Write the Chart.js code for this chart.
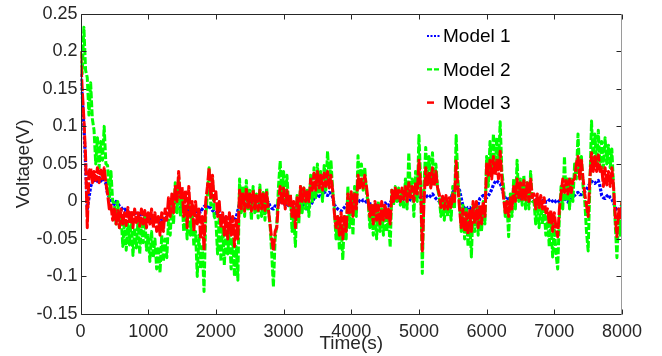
<!DOCTYPE html>
<html>
<head>
<meta charset="utf-8">
<script src="https://cdn.jsdelivr.net/npm/chart.js@4.4.0/dist/chart.umd.min.js"></script>
<style>
  html, body { margin: 0; padding: 0; background: #fff; }
  #wrap { width: 662px; height: 356px; }
</style>
</head>
<body>
<div id="wrap"><canvas id="c" width="662" height="356"></canvas></div>
<script>
const timeS = [
  0, 25, 50, 75, 100, 125, 150, 175, 200, 225, 250, 275, 300, 325, 350, 375, 400, 425, 450, 475,
  500, 525, 550, 575, 600, 625, 650, 675, 700, 725, 750, 775, 800, 825, 850, 875, 900, 925, 950, 975,
  1000, 1025, 1050, 1075, 1100, 1125, 1150, 1175, 1200, 1225, 1250, 1275, 1300, 1325, 1350, 1375, 1400, 1425, 1450, 1475,
  1500, 1525, 1550, 1575, 1600, 1625, 1650, 1675, 1700, 1725, 1750, 1775, 1800, 1825, 1850, 1875, 1900, 1925, 1950, 1975,
  2000, 2025, 2050, 2075, 2100, 2125, 2150, 2175, 2200, 2225, 2250, 2275, 2300, 2325, 2350, 2375, 2400, 2425, 2450, 2475,
  2500, 2525, 2550, 2575, 2600, 2625, 2650, 2675, 2700, 2725, 2750, 2775, 2800, 2825, 2850, 2875, 2900, 2925, 2950, 2975,
  3000, 3025, 3050, 3075, 3100, 3125, 3150, 3175, 3200, 3225, 3250, 3275, 3300, 3325, 3350, 3375, 3400, 3425, 3450, 3475,
  3500, 3525, 3550, 3575, 3600, 3625, 3650, 3675, 3700, 3725, 3750, 3775, 3800, 3825, 3850, 3875, 3900, 3925, 3950, 3975,
  4000, 4025, 4050, 4075, 4100, 4125, 4150, 4175, 4200, 4225, 4250, 4275, 4300, 4325, 4350, 4375, 4400, 4425, 4450, 4475,
  4500, 4525, 4550, 4575, 4600, 4625, 4650, 4675, 4700, 4725, 4750, 4775, 4800, 4825, 4850, 4875, 4900, 4925, 4950, 4975,
  5000, 5025, 5050, 5075, 5100, 5125, 5150, 5175, 5200, 5225, 5250, 5275, 5300, 5325, 5350, 5375, 5400, 5425, 5450, 5475,
  5500, 5525, 5550, 5575, 5600, 5625, 5650, 5675, 5700, 5725, 5750, 5775, 5800, 5825, 5850, 5875, 5900, 5925, 5950, 5975,
  6000, 6025, 6050, 6075, 6100, 6125, 6150, 6175, 6200, 6225, 6250, 6275, 6300, 6325, 6350, 6375, 6400, 6425, 6450, 6475,
  6500, 6525, 6550, 6575, 6600, 6625, 6650, 6675, 6700, 6725, 6750, 6775, 6800, 6825, 6850, 6875, 6900, 6925, 6950, 6975,
  7000, 7025, 7050, 7075, 7100, 7125, 7150, 7175, 7200, 7225, 7250, 7275, 7300, 7325, 7350, 7375, 7400, 7425, 7450, 7475,
  7500, 7525, 7550, 7575, 7600, 7625, 7650, 7675, 7700, 7725, 7750, 7775, 7800, 7825, 7850, 7875, 7900, 7925, 7950, 7975,
  8000
];

// voltages (V) every 25 s, one row = 500 s
const model1 = [
  0.17, 0.14, 0.10, 0.05, -0.01, 0.005, 0.02, 0.026, 0.03, 0.025, 0.028, 0.032, 0.027, 0.031, 0.028, 0.024, 0.01, 0.006, 0.002, -0.002,
  -0.004, 0.0, -0.003, -0.006, -0.008, -0.011, -0.012, -0.009, -0.013, -0.017, -0.014, -0.019, -0.013, -0.018, -0.02, -0.016, -0.02, -0.017, -0.022, -0.018,
  -0.019, -0.024, -0.021, -0.026, -0.022, -0.028, -0.024, -0.029, -0.023, -0.027, -0.024, -0.02, -0.015, -0.01, -0.006, -0.003, 0.0, -0.002, -0.004, -0.007,
  -0.01, -0.013, -0.009, -0.013, -0.008, -0.012, -0.009, -0.013, -0.01, -0.014, -0.011, -0.014, -0.01, -0.007, -0.005, -0.008, -0.005, -0.009, -0.012, -0.014,
  -0.016, -0.012, -0.015, -0.019, -0.02, -0.024, -0.021, -0.025, -0.02, -0.024, -0.022, -0.026, -0.021, -0.012, -0.003, 0.001, 0.002, -0.002, -0.004, 0.0,
  0.003, -0.001, -0.002, 0.002, 0.004, 0.0, -0.003, 0.001, 0.002, -0.002, -0.004, -0.001, -0.006, -0.009, -0.01, -0.006, -0.007, -0.004, -0.004, -0.001,
  -0.002, -0.005, -0.007, -0.004, -0.003, -0.007, -0.009, -0.005, -0.004, -0.008, -0.008, -0.005, -0.006, -0.009, -0.01, -0.007, -0.005, -0.001, 0.004, 0.007,
  0.01, 0.007, 0.006, 0.01, 0.013, 0.009, 0.008, 0.012, 0.011, 0.006, -0.004, -0.008, -0.01, -0.012, -0.013, -0.01, -0.008, -0.005, -0.002, 0.001,
  0.002, -0.001, -0.002, 0.001, 0.003, 0.0, -0.001, 0.002, 0.002, -0.001, -0.002, -0.003, -0.004, -0.007, -0.008, -0.005, -0.003, -0.006, -0.007, -0.004,
  -0.002, -0.005, -0.006, -0.002, 0.002, 0.004, 0.005, 0.002, 0.001, 0.004, 0.006, 0.003, 0.002, 0.005, 0.005, 0.002, 0.001, 0.003, 0.004, 0.006,
  0.008, 0.005, 0.004, 0.007, 0.009, 0.006, 0.005, 0.008, 0.01, 0.007, 0.004, 0.002, 0.0, -0.002, -0.004, -0.001, 0.001, -0.002, -0.003, 0.004,
  0.012, 0.016, 0.018, 0.017, 0.015, 0.004, -0.006, -0.009, -0.011, -0.008, -0.008, -0.011, -0.013, -0.01, -0.009, -0.004, 0.004, 0.006, 0.008, 0.005,
  0.005, 0.008, 0.011, 0.016, 0.022, 0.026, 0.028, 0.025, 0.024, 0.018, 0.01, 0.005, 0.002, 0.004, 0.005, 0.002, 0.0, 0.003, 0.006, 0.003,
  0.002, 0.004, 0.005, 0.002, 0.0, 0.003, 0.004, 0.001, -0.001, 0.002, 0.003, 0.0, -0.002, 0.001, 0.002, -0.001, -0.001, 0.002, 0.003, 0.0,
  -0.002, 0.001, 0.002, -0.001, 0.0, 0.003, 0.004, 0.001, -0.001, 0.002, 0.003, 0.006, 0.008, 0.011, 0.012, 0.009, 0.009, 0.012, 0.013, 0.016,
  0.02, 0.024, 0.027, 0.025, 0.024, 0.027, 0.028, 0.02, 0.008, 0.005, 0.004, 0.007, 0.009, 0.005, 0.003, -0.002, -0.008, -0.011, -0.012, -0.008,
  -0.005
];
const model2 = [
  0.20, 0.17, 0.232, 0.175, 0.165, 0.115, 0.158, 0.11, 0.095, 0.05, 0.085, 0.045, 0.08, 0.055, 0.10, 0.05, 0.048, 0.005, 0.04, 0.0,
  -0.002, -0.03, 0.0, -0.035, -0.02, -0.06, -0.025, -0.065, -0.03, -0.058, -0.022, -0.072, -0.035, -0.062, -0.025, -0.07, -0.03, -0.055, -0.02, -0.065,
  -0.045, -0.08, -0.04, -0.075, -0.05, -0.09, -0.06, -0.095, -0.045, -0.08, -0.05, -0.075, -0.025, -0.045, -0.005, -0.03, 0.025, -0.015, 0.032, -0.02,
  0.005, -0.04, -0.01, -0.05, 0.0, -0.045, -0.015, -0.06, -0.04, -0.1, -0.045, -0.09, -0.06, -0.12, -0.02, 0.01, 0.045, -0.005, 0.03, -0.02,
  -0.025, -0.07, -0.02, -0.08, -0.035, -0.085, -0.03, -0.07, -0.04, -0.09, -0.05, -0.1, -0.06, -0.105, 0.03, -0.015, 0.02, -0.02, 0.028, -0.01,
  0.015, -0.025, 0.02, -0.015, 0.01, -0.022, 0.022, -0.02, 0.012, -0.025, 0.018, -0.01, -0.03, -0.07, -0.114, -0.05, -0.03, 0.02, 0.054, 0.005,
  0.04, 0.0, 0.035, -0.005, 0.01, -0.04, -0.02, -0.06, 0.008, -0.03, 0.02, -0.015, 0.018, -0.01, 0.015, -0.02, 0.035, 0.0, 0.045, 0.005,
  0.05, 0.01, 0.04, 0.0, 0.048, 0.015, 0.067, 0.025, 0.055, 0.015, -0.01, -0.05, -0.02, -0.065, -0.03, -0.078, -0.02, -0.05, 0.02, -0.035,
  0.01, -0.045, 0.02, -0.02, 0.061, 0.02, 0.05, 0.015, 0.045, 0.01, 0.0, -0.035, -0.005, -0.045, -0.01, -0.05, 0.0, -0.04, -0.01, -0.045,
  -0.005, -0.04, -0.02, -0.061, 0.015, -0.005, 0.02, 0.0, 0.018, -0.005, 0.015, -0.01, 0.03, -0.01, 0.065, 0.01, 0.03, -0.02, 0.04, 0.0,
  0.088, 0.03, -0.096, 0.02, 0.072, 0.025, 0.06, 0.02, 0.065, 0.022, 0.05, 0.018, 0.005, -0.02, 0.002, -0.025, 0.005, -0.02, 0.0, -0.025,
  0.02, -0.01, 0.088, 0.03, 0.0, -0.04, -0.005, -0.05, -0.01, -0.06, -0.02, -0.074, -0.005, -0.04, 0.0, -0.045, -0.005, -0.04, 0.0, -0.03,
  0.06, 0.02, 0.08, 0.035, 0.09, 0.04, 0.085, 0.045, 0.106, 0.04, 0.02, -0.02, 0.0, -0.047, 0.01, -0.02, 0.03, -0.01, 0.055, 0.0,
  0.03, -0.005, 0.035, -0.01, 0.025, -0.01, 0.04, 0.0, 0.0, -0.03, 0.0, -0.035, -0.005, -0.03, -0.01, -0.045, -0.02, -0.06, -0.02, -0.074,
  -0.03, -0.07, -0.09, -0.02, 0.02, -0.01, 0.06, 0.0, 0.03, -0.01, 0.03, 0.0, 0.05, 0.03, 0.09, 0.035, 0.06, 0.02, 0.0, -0.04,
  -0.066, 0.02, 0.107, 0.05, 0.09, 0.05, 0.095, 0.045, 0.08, 0.045, 0.085, 0.05, 0.075, 0.045, 0.07, 0.02, -0.03, -0.075, -0.02, -0.045,
  0.0
];
const model3 = [
  0.20, 0.15, 0.11, 0.06, -0.035, 0.04, 0.045, 0.025, 0.04, 0.028, 0.045, 0.025, 0.042, 0.03, 0.045, 0.025, 0.01, -0.01, -0.005, -0.025,
  -0.01, -0.03, -0.012, -0.035, -0.01, -0.03, -0.015, -0.032, -0.008, -0.03, -0.012, -0.035, -0.01, -0.028, -0.015, -0.033, -0.01, -0.03, -0.012, -0.035,
  -0.015, -0.03, -0.01, -0.035, -0.015, -0.04, -0.02, -0.045, -0.015, -0.04, -0.01, -0.025, 0.005, -0.02, 0.01, -0.015, 0.02, 0.0, 0.04, 0.005,
  0.02, -0.02, 0.015, -0.035, 0.02, -0.02, 0.0, -0.04, 0.0, -0.03, -0.01, -0.05, -0.02, -0.065, 0.0, 0.02, 0.045, 0.005, 0.035, 0.0,
  0.013, -0.02, 0.0, -0.035, -0.015, -0.045, -0.02, -0.05, -0.015, -0.045, -0.02, -0.06, -0.025, -0.05, 0.015, -0.01, 0.012, -0.013, 0.018, -0.008,
  0.01, -0.013, 0.015, -0.01, 0.008, -0.012, 0.015, -0.01, 0.01, -0.012, 0.012, -0.01, -0.03, -0.05, -0.066, -0.04, -0.035, 0.0, 0.02, -0.005,
  0.018, -0.01, 0.015, -0.005, 0.01, -0.02, 0.0, -0.035, 0.005, -0.02, 0.02, 0.0, 0.018, 0.0, 0.015, 0.0, 0.03, 0.015, 0.038, 0.015,
  0.04, 0.018, 0.035, 0.015, 0.038, 0.02, 0.04, 0.018, 0.035, 0.015, -0.015, -0.035, -0.02, -0.045, -0.015, -0.05, -0.02, -0.04, 0.01, -0.015,
  0.013, -0.02, 0.01, -0.01, 0.035, 0.018, 0.03, 0.018, 0.035, 0.02, 0.0, -0.02, -0.005, -0.03, 0.0, -0.025, -0.005, -0.03, 0.0, -0.025,
  -0.005, -0.025, -0.01, -0.03, 0.015, 0.0, 0.018, 0.002, 0.015, 0.0, 0.018, 0.003, 0.02, 0.0, 0.025, 0.005, 0.02, 0.0, 0.025, 0.01,
  0.055, 0.02, -0.066, 0.0, 0.045, 0.02, 0.04, 0.018, 0.045, 0.02, 0.04, 0.018, 0.01, -0.008, 0.007, -0.01, 0.008, -0.01, 0.005, -0.008,
  0.01, 0.0, 0.054, 0.02, -0.01, -0.035, -0.01, -0.04, -0.015, -0.044, -0.012, -0.04, 0.0, -0.03, 0.0, -0.035, -0.005, -0.03, 0.0, -0.02,
  0.05, 0.035, 0.055, 0.03, 0.06, 0.035, 0.055, 0.03, 0.067, 0.03, 0.005, -0.015, 0.0, -0.02, 0.005, -0.01, 0.02, 0.0, 0.03, 0.005,
  0.025, 0.0, 0.028, 0.002, 0.025, 0.0, 0.03, 0.005, 0.01, -0.01, 0.01, -0.008, 0.008, -0.01, 0.005, -0.015, -0.01, -0.03, -0.012, -0.04,
  -0.015, -0.035, -0.047, -0.01, 0.01, 0.03, 0.012, 0.028, 0.01, 0.03, 0.012, 0.028, 0.03, 0.05, 0.06, 0.03, 0.055, 0.03, 0.01, -0.005,
  -0.02, 0.03, 0.065, 0.04, 0.06, 0.04, 0.062, 0.04, 0.045, 0.02, 0.045, 0.022, 0.04, 0.02, 0.045, 0.02, -0.02, -0.047, -0.01, -0.025,
  0.0
];

const seriesNames = ["Model 1", "Model 2", "Model 3"];
const xTicks = [0, 1000, 2000, 3000, 4000, 5000, 6000, 7000, 8000];
const yTicks = [-0.15, -0.1, -0.05, 0, 0.05, 0.1, 0.15, 0.2, 0.25];
const yTickLabels = ["-0.15", "-0.1", "-0.05", "0", "0.05", "0.1", "0.15", "0.2", "0.25"];

const FONT = "'Liberation Sans', Arial, Helvetica, sans-serif";
const TEXT = "#262626";
const legendDash = [[2, 1.5], [5, 2], [7, 30]];
const legendWidth = [2, 2.2, 2.5];

function points(vals) {
  return timeS.map((t, i) => ({ x: t, y: vals[i] }));
}

// matlab-ish axes box: inward ticks on all sides, legend inside the plot
const boxPlugin = {
  id: "box",
  afterDraw(chart) {
    const { ctx, chartArea: a, scales } = chart;
    const L = Math.round(a.left) + 0.5, R = Math.round(a.right) - 0.5;
    const T = Math.round(a.top) + 0.5, B = Math.round(a.bottom) + 0.5;
    ctx.save();
    ctx.lineWidth = 1;
    ctx.strokeStyle = TEXT;
    ctx.beginPath();
    ctx.moveTo(L, T); ctx.lineTo(R, T);
    ctx.moveTo(L, T); ctx.lineTo(L, B);
    ctx.moveTo(L, B); ctx.lineTo(R, B);
    for (const v of xTicks) {
      const px = Math.round(scales.x.getPixelForValue(v)) + 0.5;
      ctx.moveTo(px, B); ctx.lineTo(px, B - 5);
      ctx.moveTo(px, T); ctx.lineTo(px, T + 5);
    }
    for (const v of yTicks) {
      const py = Math.round(scales.y.getPixelForValue(v)) + 0.5;
      ctx.moveTo(L, py); ctx.lineTo(L + 5, py);
      ctx.moveTo(R, py); ctx.lineTo(R - 5, py);
    }
    ctx.stroke();
    ctx.strokeStyle = "#9a9a9a";
    ctx.beginPath();
    ctx.moveTo(R, T); ctx.lineTo(R, B);
    ctx.stroke();

    // legend
    ctx.font = "19px " + FONT;
    ctx.fillStyle = "#000";
    ctx.textBaseline = "middle";
    chart.data.datasets.forEach((ds, i) => {
      const yy = 36 + i * 33.3;
      ctx.strokeStyle = ds.borderColor;
      ctx.lineWidth = legendWidth[i];
      ctx.setLineDash(legendDash[i]);
      ctx.beginPath();
      ctx.moveTo(427, yy); ctx.lineTo(440, yy);
      ctx.stroke();
      ctx.setLineDash([]);
      ctx.fillText(ds.label, 443, yy + 1);
    });
    ctx.restore();
  }
};

new Chart(document.getElementById("c"), {
  type: "line",
  data: {
    datasets: [
      { label: seriesNames[0], data: points(model1), borderColor: "#0000ff", borderWidth: 3.2, borderDash: [3, 1.5], order: 3 },
      { label: seriesNames[1], data: points(model2), borderColor: "#00ff00", borderWidth: 3, borderDash: [7, 2], order: 2 },
      { label: seriesNames[2], data: points(model3), borderColor: "#ff0000", borderWidth: 3, borderDash: [12, 2], order: 1 },
    ],
  },
  options: {
    responsive: false,
    animation: false,
    layout: { padding: { top: 13, right: 40, bottom: 0, left: 0 } },
    elements: {
      point: { radius: 0, hoverRadius: 0 },
      line: { tension: 0, borderJoinStyle: "round", fill: false },
    },
    plugins: { legend: { display: false }, tooltip: { enabled: false } },
    scales: {
      x: {
        type: "linear",
        min: 0,
        max: 8000,
        afterBuildTicks: (s) => { s.ticks = xTicks.map((v) => ({ value: v })); },
        afterFit: (s) => { s.height = 42; },
        grid: { display: false, drawTicks: false },
        border: { display: false },
        ticks: {
          autoSkip: false, maxRotation: 0, padding: 7, color: TEXT,
          font: { family: FONT, size: 18 },
          callback: (v) => String(v),
        },
        title: {
          display: true, text: "Time(s)", color: TEXT,
          font: { family: FONT, size: 19 },
          padding: { top: 0, bottom: 1 },
        },
      },
      y: {
        min: -0.15,
        max: 0.25,
        afterBuildTicks: (s) => { s.ticks = yTicks.map((v) => ({ value: v })); },
        afterFit: (s) => { s.width = 80.5; },
        grid: { display: false, drawTicks: false },
        border: { display: false },
        ticks: {
          autoSkip: false, padding: 3, color: TEXT,
          font: { family: FONT, size: 18 },
          callback: (v) => yTickLabels[yTicks.indexOf(v)],
        },
        title: {
          display: true, text: "Voltage(V)", color: TEXT,
          font: { family: FONT, size: 19 },
          padding: { top: 12, bottom: 0 },
        },
      },
    },
  },
  plugins: [boxPlugin],
});
</script>
</body>
</html>
